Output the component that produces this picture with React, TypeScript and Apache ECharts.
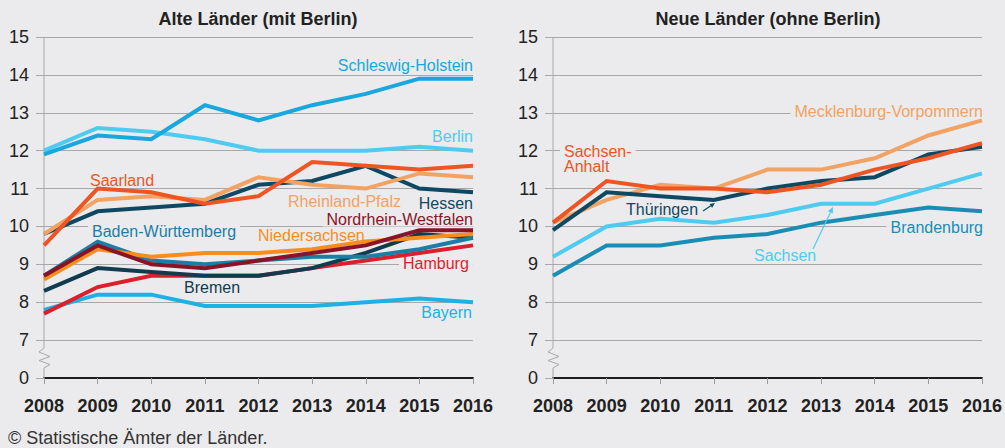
import React, { useEffect, useRef } from 'react';
import * as echarts from 'echarts';

const years = ['2008', '2009', '2010', '2011', '2012', '2013', '2014', '2015', '2016'];

// Alte Länder (mit Berlin)
const schleswigHolstein = [11.9, 12.4, 12.3, 13.2, 12.8, 13.2, 13.5, 13.9, 13.9];
const berlin = [12.0, 12.6, 12.5, 12.3, 12.0, 12.0, 12.0, 12.1, 12.0];
const saarland = [9.5, 11.0, 10.9, 10.6, 10.8, 11.7, 11.6, 11.5, 11.6];
const rheinlandPfalz = [9.8, 10.7, 10.8, 10.7, 11.3, 11.1, 11.0, 11.4, 11.3];
const hessen = [9.8, 10.4, 10.5, 10.6, 11.1, 11.2, 11.6, 11.0, 10.9];
const badenWuerttemberg = [8.7, 9.6, 9.1, 9.0, 9.1, 9.2, 9.2, 9.4, 9.7];
const nordrheinWestfalen = [8.7, 9.5, 9.0, 8.9, 9.1, 9.3, 9.5, 9.9, 9.9];
const niedersachsen = [8.6, 9.4, 9.2, 9.3, 9.3, 9.4, 9.6, 9.7, 9.8];
const hamburg = [7.7, 8.4, 8.7, 8.7, 8.7, 8.9, 9.1, 9.3, 9.5];
const bremen = [8.3, 8.9, 8.8, 8.7, 8.7, 8.9, 9.3, 9.8, 9.7];
const bayern = [7.8, 8.2, 8.2, 7.9, 7.9, 7.9, 8.0, 8.1, 8.0];

// Neue Länder (ohne Berlin)
const mecklenburgVorpommern = [10.1, 10.7, 11.1, 11.0, 11.5, 11.5, 11.8, 12.4, 12.8];
const sachsenAnhalt = [10.1, 11.2, 11.0, 11.0, 10.9, 11.1, 11.5, 11.8, 12.2];
const thueringen = [9.9, 10.9, 10.8, 10.7, 11.0, 11.2, 11.3, 11.9, 12.1];
const sachsen = [9.2, 10.0, 10.2, 10.1, 10.3, 10.6, 10.6, 11.0, 11.4];
const brandenburg = [8.7, 9.5, 9.5, 9.7, 9.8, 10.1, 10.3, 10.5, 10.4];

// axis: the break maps the value 6 to the "0" tick
const yMin = 6;
const yMax = 15;
const breakLabel = '0';

const BG = '#ebebed';
const GRID = '#a8a8aa';
const TXT = '#222222';
const FONT = '"Liberation Sans", Arial, Helvetica, sans-serif';

const C = {
  sh: '#19a7de',
  berlin: '#4ecbef',
  saar: '#ef5523',
  rp: '#f2a263',
  hessen: '#0f4862',
  bw: '#1a7ea7',
  nrw: '#8a1427',
  nds: '#f68e1e',
  hh: '#dc1f2b',
  hb: '#133b50',
  by: '#1db1e4',
  mv: '#f2a263',
  st: '#ef5523',
  th: '#0f4862',
  sn: '#4ecbef',
  bb: '#1a8db5',
};

const westSeries: [string, number[], string][] = [
  ['Bayern', bayern, C.by],
  ['Hamburg', hamburg, C.hh],
  ['Bremen', bremen, C.hb],
  ['Baden-Württemberg', badenWuerttemberg, C.bw],
  ['Niedersachsen', niedersachsen, C.nds],
  ['Nordrhein-Westfalen', nordrheinWestfalen, C.nrw],
  ['Hessen', hessen, C.hessen],
  ['Rheinland-Pfalz', rheinlandPfalz, C.rp],
  ['Saarland', saarland, C.saar],
  ['Berlin', berlin, C.berlin],
  ['Schleswig-Holstein', schleswigHolstein, C.sh],
];

const eastSeries: [string, number[], string][] = [
  ['Brandenburg', brandenburg, C.bb],
  ['Sachsen', sachsen, C.sn],
  ['Mecklenburg-Vorpommern', mecklenburgVorpommern, C.mv],
  ['Thüringen', thueringen, C.th],
  ['Sachsen-Anhalt', sachsenAnhalt, C.st],
];

// [text, x, y, align, color]  (x includes 4px background padding)
const westLabels: [string, number, number, string, string][] = [
  ['Schleswig-Holstein', 477, 65, 'right', C.sh],
  ['Berlin', 477, 136, 'right', C.berlin],
  ['Saarland', 86, 180, 'left', C.saar],
  ['Rheinland-Pfalz', 284, 201, 'left', C.rp],
  ['Hessen', 477, 203, 'right', C.hessen],
  ['Nordrhein-Westfalen', 477, 219, 'right', C.nrw],
  ['Niedersachsen', 254, 235.5, 'left', C.nds],
  ['Baden-Württemberg', 88, 231, 'left', C.bw],
  ['Hamburg', 399, 263, 'left', C.hh],
  ['Bremen', 180, 287, 'left', C.hb],
  ['Bayern', 476, 312, 'right', C.by],
];

const eastLabels: [string, number, number, string, string][] = [
  ['Mecklenburg-Vorpommern', 987, 111, 'right', C.mv],
  ['Sachsen-\nAnhalt', 560, 159, 'left', C.st],
  ['Thüringen', 622, 209, 'left', C.th],
  ['Sachsen', 750, 255, 'left', C.sn],
  ['Brandenburg', 987, 227, 'right', C.bb],
];

function arrow(x1: number, y1: number, x2: number, y2: number, color: string, head: number) {
  const dx = x2 - x1;
  const dy = y2 - y1;
  const len = Math.sqrt(dx * dx + dy * dy);
  const ux = dx / len;
  const uy = dy / len;
  const bx = x2 - ux * head;
  const by = y2 - uy * head;
  const w = head * 0.45;
  return [
    { type: 'line', z: 5, shape: { x1, y1, x2: bx, y2: by }, style: { stroke: color, lineWidth: 1.2 } },
    {
      type: 'polygon',
      z: 5,
      shape: { points: [[x2, y2], [bx - uy * w, by + ux * w], [bx + uy * w, by - ux * w]] },
      style: { fill: color },
    },
  ];
}

export default function App() {
  const ref = useRef<HTMLDivElement>(null);
  useEffect(() => {
    if (!ref.current) return;
    const chart = echarts.init(ref.current, undefined, { renderer: 'svg' });

    const grids = [
      { left: 44, top: 37, width: 429, height: 341 },
      { left: 553, top: 37, width: 430, height: 341 },
    ];

    const xAxis = grids.map((_, i) => ({
      type: 'category',
      gridIndex: i,
      data: years,
      boundaryGap: false,
      axisLine: { show: true, lineStyle: { color: '#1e1e1e', width: 2 } },
      axisTick: { show: true, length: 6, lineStyle: { color: '#9a9a9a', width: 1 } },
      axisLabel: { color: TXT, fontSize: 18, fontWeight: 'bold', fontFamily: FONT, margin: 19 },
      splitLine: { show: false },
    }));

    const yAxis = grids.map((_, i) => ({
      type: 'value',
      gridIndex: i,
      min: yMin,
      max: yMax,
      interval: 1,
      axisLine: { show: false },
      axisTick: { show: true, length: 8, lineStyle: { color: GRID, width: 1 } },
      axisLabel: {
        color: TXT,
        fontSize: 18,
        fontFamily: FONT,
        margin: 15,
        formatter: (v: number) => (v === yMin ? breakLabel : String(v)),
      },
      splitLine: { show: true, lineStyle: { color: GRID, width: 1 } },
    }));

    const mk = (list: [string, number[], string][], idx: number) =>
      list.map(([name, data, color]) => ({
        name,
        type: 'line',
        xAxisIndex: idx,
        yAxisIndex: idx,
        data,
        showSymbol: false,
        symbol: 'none',
        lineStyle: { color, width: 4, join: 'miter' },
        z: 3,
      }));

    const labelGraphics = (list: [string, number, number, string, string][]) =>
      list.map(([text, x, y, align, color]) => ({
        type: 'text',
        z: 1,
        x,
        y,
        style: {
          text,
          fill: color,
          font: `16px ${FONT}`,
          align,
          verticalAlign: 'middle',
          lineHeight: 15,
          backgroundColor: BG,
          padding: [0, 4, 0, 4],
        },
      }));

    const axisWithBreak = (x: number) => ({
      type: 'polyline',
      z: 1,
      shape: {
        points: [
          [x, 37],
          [x, 348],
          [x - 5, 352],
          [x + 6, 356.5],
          [x - 5, 360.5],
          [x + 6, 364.5],
          [x, 368],
          [x, 378],
        ],
      },
      style: { stroke: GRID, lineWidth: 1, fill: 'none' },
    });

    chart.setOption({
      animation: false,
      backgroundColor: BG,
      grid: grids,
      xAxis,
      yAxis,
      series: [...mk(westSeries, 0), ...mk(eastSeries, 1)],
      graphic: [
        {
          type: 'text',
          x: 258,
          y: 19,
          style: { text: 'Alte Länder (mit Berlin)', fill: TXT, font: `bold 18px ${FONT}`, align: 'center', verticalAlign: 'middle' },
        },
        {
          type: 'text',
          x: 768,
          y: 19,
          style: { text: 'Neue Länder (ohne Berlin)', fill: TXT, font: `bold 18px ${FONT}`, align: 'center', verticalAlign: 'middle' },
        },
        {
          type: 'text',
          x: 8,
          y: 438,
          style: { text: '© Statistische Ämter der Länder.', fill: '#333', font: `18px ${FONT}`, align: 'left', verticalAlign: 'middle' },
        },
        axisWithBreak(44),
        axisWithBreak(553),
        ...labelGraphics(westLabels),
        ...labelGraphics(eastLabels),
        ...arrow(703, 211, 715, 203, C.th, 5),
        ...arrow(813, 249, 833, 207, C.sn, 6),
      ],
    });
    return () => chart.dispose();
  }, []);
  return <div ref={ref} style={{ position: 'fixed', left: 0, top: 0, width: 1005, height: 448 }} />;
}
